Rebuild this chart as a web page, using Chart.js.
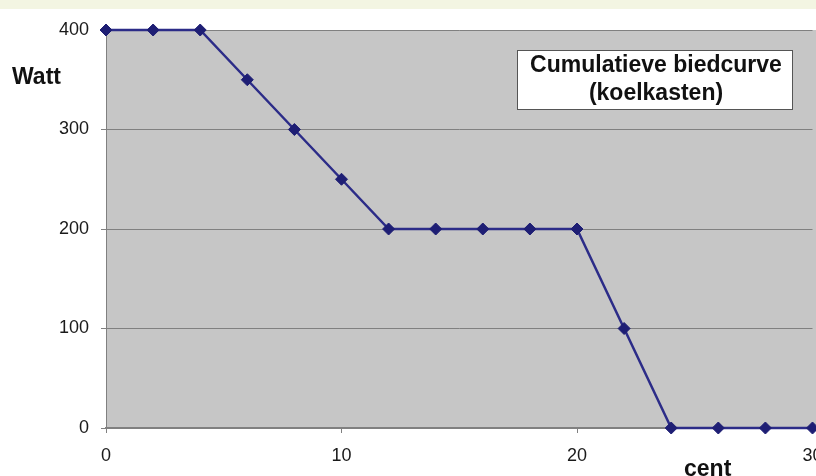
<!DOCTYPE html>
<html>
<head>
<meta charset="utf-8">
<script src="https://cdn.jsdelivr.net/npm/chart.js@4"></script>
<style>
  html, body { margin: 0; padding: 0; background: #ffffff; }
  #wrap { width: 816px; height: 476px; position: relative; }
</style>
</head>
<body>
<div id="wrap"><canvas id="chart" width="816" height="476"></canvas></div>
<script>
// prijs in cent en cumulatief vermogen in Watt
var cents = [0, 2, 4, 6, 8, 10, 12, 14, 16, 18, 20, 22, 24, 26, 28, 30];
var watts = [400, 400, 400, 350, 300, 250, 200, 200, 200, 200, 200, 100, 0, 0, 0, 0];
var xTicks = [0, 10, 20, 30];
var yTicks = [0, 100, 200, 300, 400];
var titleLines = ["Cumulatieve biedcurve", "(koelkasten)"];

var points = cents.map(function(c, i) { return { x: c, y: watts[i] }; });

var decor = {
  id: 'decor',
  beforeDraw: function(chart) {
    var ctx = chart.ctx;
    var a = chart.chartArea;
    ctx.save();
    ctx.fillStyle = '#f3f5e2';
    ctx.fillRect(0, 0, chart.width, 9);
    ctx.fillStyle = '#c6c6c6';
    ctx.fillRect(a.left, a.top, chart.width - a.left, a.bottom - a.top);
    ctx.restore();
  },
  afterDatasetsDraw: function(chart) {
    var ctx = chart.ctx;
    ctx.save();
    // titelkader
    ctx.fillStyle = '#ffffff';
    ctx.fillRect(517, 50, 276, 60);
    ctx.strokeStyle = '#555555';
    ctx.lineWidth = 1;
    ctx.strokeRect(517.5, 50.5, 275, 59);
    ctx.fillStyle = '#111111';
    ctx.font = 'bold 23px "Liberation Sans", Arial, sans-serif';
    ctx.textAlign = 'center';
    ctx.textBaseline = 'middle';
    ctx.fillText(titleLines[0], 656, 66);
    ctx.fillText(titleLines[1], 656, 94);
    // astitels
    ctx.font = 'bold 23px "Liberation Sans", Arial, sans-serif';
    ctx.textAlign = 'left';
    ctx.fillText('Watt', 12, 78);
    ctx.fillText('cent', 684, 470);
    ctx.restore();
  }
};

new Chart(document.getElementById('chart'), {
  type: 'line',
  data: {
    datasets: [{
      data: points,
      borderColor: '#2c2c88',
      borderWidth: 2.5,
      backgroundColor: '#1e1e74',
      pointBackgroundColor: '#1e1e74',
      pointBorderColor: '#1e1e74',
      pointStyle: 'rectRot',
      pointRadius: 6,
      pointBorderWidth: 1,
      tension: 0,
      clip: false
    }]
  },
  options: {
    responsive: false,
    animation: false,
    events: [],
    layout: { autoPadding: false, padding: { top: 30, right: 3.5, left: 0, bottom: 0 } },
    plugins: { legend: { display: false }, tooltip: { enabled: false } },
    scales: {
      x: {
        type: 'linear',
        min: 0,
        max: 30,
        afterBuildTicks: function(scale) {
          scale.ticks = xTicks.map(function(v) { return { value: v }; });
        },
        afterFit: function(scale) {
          scale.height = 48;
          scale.paddingLeft = 0;
          scale.paddingRight = 0;
        },
        grid: { drawOnChartArea: false, drawTicks: true, tickLength: 5, color: '#808080' },
        border: { color: '#808080', width: 2 },
        ticks: {
          autoSkip: false,
          maxRotation: 0,
          padding: 12,
          color: '#1a1a1a',
          font: { family: '"Liberation Sans", Arial, sans-serif', size: 18 }
        }
      },
      y: {
        min: 0,
        max: 400,
        afterBuildTicks: function(scale) {
          scale.ticks = yTicks.map(function(v) { return { value: v }; });
        },
        afterFit: function(scale) {
          scale.width = 106;
          scale.paddingTop = 0;
          scale.paddingBottom = 0;
        },
        grid: { color: '#808080', lineWidth: 1, tickLength: 5 },
        border: { color: '#808080', width: 1 },
        ticks: {
          padding: 12,
          color: '#1a1a1a',
          font: { family: '"Liberation Sans", Arial, sans-serif', size: 18 }
        }
      }
    }
  },
  plugins: [decor]
});
</script>
</body>
</html>
